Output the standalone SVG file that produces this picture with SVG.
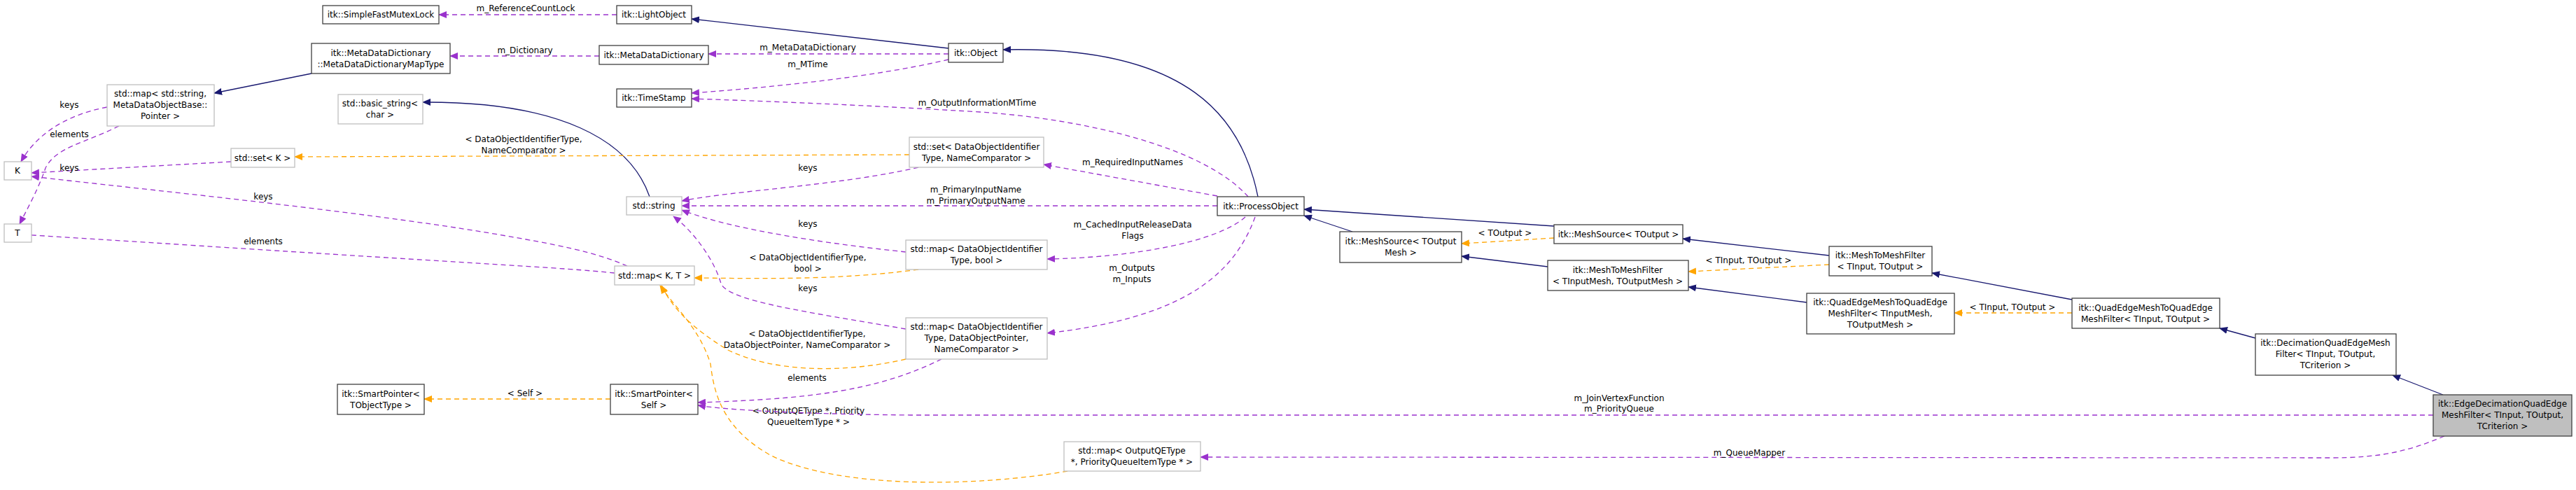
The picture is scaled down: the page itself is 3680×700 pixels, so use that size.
<svg xmlns="http://www.w3.org/2000/svg" width="3680" height="700" viewBox="0 0 3680 700">
<style>
text{font-family:"DejaVu Sans","Liberation Sans",sans-serif;font-size:12px;fill:#000}
.n text,.lbl{text-anchor:middle}
.b{fill:#fff;stroke:#404040;stroke-width:1.3}
.g{fill:#fff;stroke:#bfbfbf;stroke-width:1.3}
.c{fill:#bfbfbf;stroke:#404040;stroke-width:1.3}
.inh{fill:none;stroke:#191970;stroke-width:1.3;marker-end:url(#an)}
.use{fill:none;stroke:#9a32cd;stroke-width:1.3;stroke-dasharray:7,5;marker-end:url(#ap)}
.tpl{fill:none;stroke:#ffa500;stroke-width:1.3;stroke-dasharray:7,5;marker-end:url(#ao)}
</style>
<defs>
<marker id="an" markerWidth="12" markerHeight="10" refX="11" refY="5" orient="auto" markerUnits="userSpaceOnUse"><path d="M0,0 L12,5 L0,10 z" fill="#191970"/></marker>
<marker id="ap" markerWidth="12" markerHeight="10" refX="11" refY="5" orient="auto" markerUnits="userSpaceOnUse"><path d="M0,0 L12,5 L0,10 z" fill="#9a32cd"/></marker>
<marker id="ao" markerWidth="12" markerHeight="10" refX="11" refY="5" orient="auto" markerUnits="userSpaceOnUse"><path d="M0,0 L12,5 L0,10 z" fill="#ffa500"/></marker>
</defs>
<rect width="3680" height="700" fill="#fff"/>
<g id="edges">
<path class="use" d="M881,21 L627,21"/><text class="lbl" x="751" y="16">m_ReferenceCountLock</text>
<path class="use" d="M856,80 L643,80"/><text class="lbl" x="750" y="76">m_Dictionary</text>
<path class="inh" d="M445,105 L306,133"/>
<path class="inh" d="M1355,69 L988,27"/>
<path class="use" d="M1355,77 L1012,77"/><text class="lbl" x="1154" y="72">m_MetaDataDictionary</text>
<path class="use" d="M1355,85 C1250,110 1100,125 988,133"/><text class="lbl" x="1154" y="96">m_MTime</text>
<path class="use" d="M1783,281 C1720,210 1550,170 1400,160 C1200,148 1050,143 988,141"/><text class="lbl" x="1396" y="151">m_OutputInformationMTime</text>
<path class="inh" d="M1797,281 C1775,170 1700,65 1433,71"/>
<path class="use" d="M1739,280 L1491,235"/><text class="lbl" x="1618" y="236">m_RequiredInputNames</text>
<path class="use" d="M1739,294 L974,294"/><text class="lbl" x="1394" y="275">m_PrimaryInputName</text><text class="lbl" x="1394" y="291">m_PrimaryOutputName</text>
<path class="use" d="M1779,310 C1740,345 1620,368 1496,370"/><text class="lbl" x="1618" y="325">m_CachedInputReleaseData</text><text class="lbl" x="1618" y="341">Flags</text>
<path class="use" d="M1793,310 C1760,400 1680,455 1496,476"/><text class="lbl" x="1617" y="387">m_Outputs</text><text class="lbl" x="1617" y="403">m_Inputs</text>
<path class="use" d="M1312,239 C1200,265 1050,272 974,287"/><text class="lbl" x="1154" y="244">keys</text>
<path class="use" d="M1294,360 C1200,350 1050,330 974,300"/><text class="lbl" x="1154" y="324">keys</text>
<path class="use" d="M1294,470 C1150,445 1040,430 1030,405 C1020,370 990,330 962,309"/><text class="lbl" x="1154" y="416">keys</text>
<path class="inh" d="M928,281 C900,200 800,145 604,146"/>
<path class="tpl" d="M1299,221 L421,224"/><text class="lbl" x="748" y="203">&lt; DataObjectIdentifierType,</text><text class="lbl" x="748" y="219">NameComparator &gt;</text>
<path class="use" d="M153,153 C90,165 50,195 30,231"/><text class="lbl" x="99" y="154">keys</text>
<path class="use" d="M170,180 C120,205 80,210 65,240 C55,270 38,300 28,320"/><text class="lbl" x="99" y="196">elements</text>
<path class="use" d="M330,231 L45,247"/><text class="lbl" x="99" y="244">keys</text>
<path class="use" d="M896,380 C850,360 800,350 700,333 C500,300 200,270 45,252"/><text class="lbl" x="376" y="285">keys</text>
<path class="use" d="M878,390 C800,382 700,378 268,350 L32,335"/><text class="lbl" x="376" y="349">elements</text>
<path class="tpl" d="M1312,385 C1200,400 1100,398 992,397"/><text class="lbl" x="1154" y="372">&lt; DataObjectIdentifierType,</text><text class="lbl" x="1154" y="388">bool &gt;</text>
<path class="tpl" d="M1294,513 C1200,535 1100,530 1040,500 C990,470 960,440 945,408"/><text class="lbl" x="1153" y="481">&lt; DataObjectIdentifierType,</text><text class="lbl" x="1153" y="497">DataObjectPointer, NameComparator &gt;</text>
<path class="tpl" d="M1525,673 C1400,695 1200,700 1100,650 C1030,610 1020,560 1015,520 C1000,470 965,440 943,408"/><text class="lbl" x="1155" y="591">&lt; OutputQEType *, Priority</text><text class="lbl" x="1155" y="607">QueueItemType * &gt;</text>
<path class="use" d="M1345,513 C1250,560 1150,570 997,575"/><text class="lbl" x="1153" y="544">elements</text>
<path class="use" d="M3476,593 L1300,593 C1100,591 1020,583 997,579"/><text class="lbl" x="2313" y="573">m_JoinVertexFunction</text><text class="lbl" x="2313" y="588">m_PriorityQueue</text>
<path class="tpl" d="M872,570 L606,570"/><text class="lbl" x="750" y="566">&lt; Self &gt;</text>
<path class="use" d="M3492,623 C3440,645 3400,654 3330,654 L1715,653"/><text class="lbl" x="2499" y="651">m_QueueMapper</text>
<path class="inh" d="M1932,331 L1863,308"/>
<path class="inh" d="M2220,323 L1863,299"/>
<path class="tpl" d="M2220,340 L2088,348"/><text class="lbl" x="2150" y="337">&lt; TOutput &gt;</text>
<path class="inh" d="M2211,381 L2088,366"/>
<path class="inh" d="M2613,365 L2404,341"/>
<path class="tpl" d="M2613,378 L2412,388"/><text class="lbl" x="2498" y="376">&lt; TInput, TOutput &gt;</text>
<path class="inh" d="M2581,432 L2412,410"/>
<path class="inh" d="M2960,428 L2760,390"/>
<path class="tpl" d="M2960,447 L2792,447"/><text class="lbl" x="2875" y="443">&lt; TInput, TOutput &gt;</text>
<path class="inh" d="M3222,483 L3171,469"/>
<path class="inh" d="M3490,564 L3418,536"/>
</g>
<g id="n_mutex" class="n"><rect class="b" x="461" y="8" width="166" height="26"/><text x="544" y="25">itk::SimpleFastMutexLock</text></g>
<g id="n_lightobject" class="n"><rect class="b" x="881" y="8" width="107" height="26"/><text x="934" y="25">itk::LightObject</text></g>
<g id="n_mapType" class="n"><rect class="b" x="445" y="62" width="198" height="43"/><text x="544" y="80">itk::MetaDataDictionary</text><text x="544" y="96">::MetaDataDictionaryMapType</text></g>
<g id="n_mdd" class="n"><rect class="b" x="856" y="65" width="156" height="27"/><text x="934" y="83">itk::MetaDataDictionary</text></g>
<g id="n_object" class="n"><rect class="b" x="1355" y="62" width="78" height="27"/><text x="1394" y="80">itk::Object</text></g>
<g id="n_timestamp" class="n"><rect class="b" x="881" y="127" width="107" height="26"/><text x="934" y="144">itk::TimeStamp</text></g>
<g id="n_mapstr" class="n"><rect class="g" x="153" y="121" width="153" height="59"/><text x="229" y="138">std::map&lt; std::string,</text><text x="229" y="154">MetaDataObjectBase::</text><text x="229" y="170">Pointer &gt;</text></g>
<g id="n_basicstring" class="n"><rect class="g" x="483" y="135" width="121" height="42"/><text x="543" y="152">std::basic_string&lt;</text><text x="543" y="168">char &gt;</text></g>
<g id="n_setK" class="n"><rect class="g" x="330" y="212" width="91" height="27"/><text x="375" y="230">std::set&lt; K &gt;</text></g>
<g id="n_K" class="n"><rect class="g" x="6" y="231" width="39" height="26"/><text x="25" y="248">K</text></g>
<g id="n_T" class="n"><rect class="g" x="6" y="320" width="39" height="26"/><text x="25" y="337">T</text></g>
<g id="n_string" class="n"><rect class="g" x="895" y="281" width="79" height="26"/><text x="934" y="298">std::string</text></g>
<g id="n_setDOI" class="n"><rect class="g" x="1299" y="196" width="192" height="43"/><text x="1395" y="214">std::set&lt; DataObjectIdentifier</text><text x="1395" y="230">Type, NameComparator &gt;</text></g>
<g id="n_mapDOIbool" class="n"><rect class="g" x="1294" y="343" width="202" height="42"/><text x="1395" y="360">std::map&lt; DataObjectIdentifier</text><text x="1395" y="376">Type, bool &gt;</text></g>
<g id="n_mapDOIDOP" class="n"><rect class="g" x="1294" y="454" width="202" height="59"/><text x="1395" y="471">std::map&lt; DataObjectIdentifier</text><text x="1395" y="487">Type, DataObjectPointer,</text><text x="1395" y="503">NameComparator &gt;</text></g>
<g id="n_mapKT" class="n"><rect class="g" x="878" y="380" width="114" height="27"/><text x="935" y="398">std::map&lt; K, T &gt;</text></g>
<g id="n_spSelf" class="n"><rect class="b" x="872" y="549" width="125" height="43"/><text x="934" y="567">itk::SmartPointer&lt;</text><text x="934" y="583">Self &gt;</text></g>
<g id="n_spT" class="n"><rect class="b" x="482" y="549" width="124" height="43"/><text x="544" y="567">itk::SmartPointer&lt;</text><text x="544" y="583">TObjectType &gt;</text></g>
<g id="n_processobject" class="n"><rect class="b" x="1739" y="281" width="124" height="27"/><text x="1801" y="299">itk::ProcessObject</text></g>
<g id="n_mapQE" class="n"><rect class="g" x="1520" y="631" width="195" height="42"/><text x="1617" y="648">std::map&lt; OutputQEType</text><text x="1617" y="664">*, PriorityQueueItemType * &gt;</text></g>
<g id="n_msTOM" class="n"><rect class="b" x="1914" y="331" width="174" height="44"/><text x="2001" y="349">itk::MeshSource&lt; TOutput</text><text x="2001" y="365">Mesh &gt;</text></g>
<g id="n_msTO" class="n"><rect class="b" x="2220" y="321" width="184" height="27"/><text x="2312" y="339">itk::MeshSource&lt; TOutput &gt;</text></g>
<g id="n_m2mTIM" class="n"><rect class="b" x="2211" y="372" width="201" height="43"/><text x="2311" y="390">itk::MeshToMeshFilter</text><text x="2311" y="406">&lt; TInputMesh, TOutputMesh &gt;</text></g>
<g id="n_m2mTI" class="n"><rect class="b" x="2613" y="352" width="147" height="42"/><text x="2686" y="369">itk::MeshToMeshFilter</text><text x="2686" y="385">&lt; TInput, TOutput &gt;</text></g>
<g id="n_qeTIM" class="n"><rect class="b" x="2581" y="419" width="211" height="58"/><text x="2686" y="436">itk::QuadEdgeMeshToQuadEdge</text><text x="2686" y="452">MeshFilter&lt; TInputMesh,</text><text x="2686" y="468">TOutputMesh &gt;</text></g>
<g id="n_qeTI" class="n"><rect class="b" x="2960" y="426" width="211" height="43"/><text x="3065" y="444">itk::QuadEdgeMeshToQuadEdge</text><text x="3065" y="460">MeshFilter&lt; TInput, TOutput &gt;</text></g>
<g id="n_decim" class="n"><rect class="b" x="3222" y="477" width="201" height="59"/><text x="3322" y="494">itk::DecimationQuadEdgeMesh</text><text x="3322" y="510">Filter&lt; TInput, TOutput,</text><text x="3322" y="526">TCriterion &gt;</text></g>
<g id="n_edgedecim" class="n"><rect class="c" x="3476" y="564" width="198" height="59"/><text x="3575" y="581">itk::EdgeDecimationQuadEdge</text><text x="3575" y="597">MeshFilter&lt; TInput, TOutput,</text><text x="3575" y="613">TCriterion &gt;</text></g>
</svg>
